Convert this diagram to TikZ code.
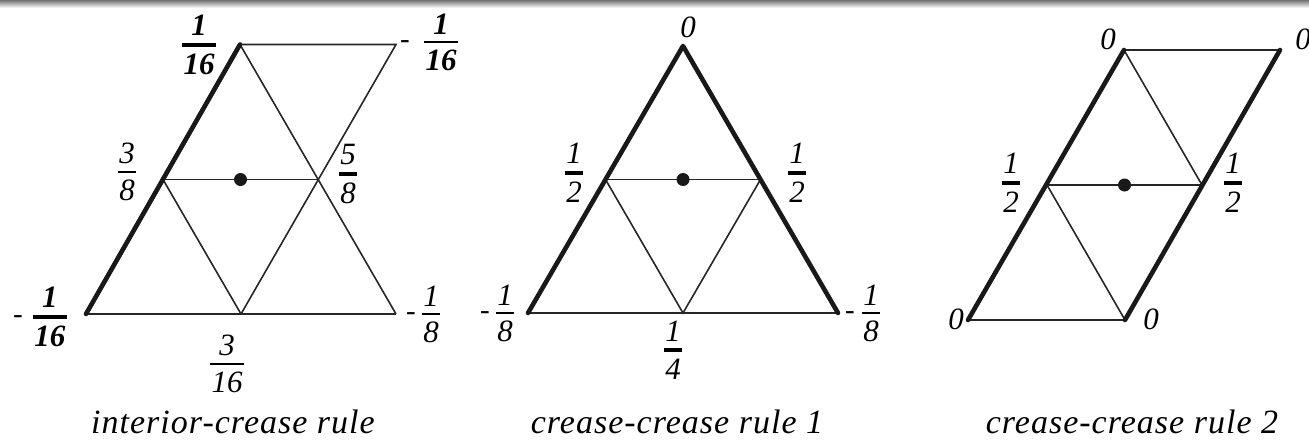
\documentclass[tikz,border=0pt]{standalone}
\usepackage{fontspec}
\usetikzlibrary{calc}
\setmainfont{Liberation Serif}
\newfontfamily\capfont[LetterSpace=3]{Liberation Serif}
\newsavebox\frnumbox
\newsavebox\frdenbox
\newdimen\frwd
\newcommand{\fr}[3]{%
  \sbox\frnumbox{#1}\sbox\frdenbox{#2}%
  \frwd=\wd\frnumbox
  \ifdim\wd\frdenbox>\frwd \frwd=\wd\frdenbox\fi
  \advance\frwd by 3pt
  \vbox{\hbox to\frwd{\hss\usebox\frnumbox\hss}\kern7pt\hrule height #3\kern7pt\hbox to\frwd{\hss\usebox\frdenbox\hss}}}
\tikzset{
  lab/.style={inner sep=0pt, font=\fontsize{31}{32}\selectfont\itshape},
  labb/.style={inner sep=0pt, font=\fontsize{31}{32}\selectfont\itshape\bfseries},
  minus/.style={inner sep=0pt, anchor=base, font=\fontsize{29}{30}\selectfont},
  crease/.style={line width=1.6pt, draw=black!85},
  heavy/.style={line width=4.6pt, draw=black!90, line cap=round, line join=round},
  captiontext/.style={inner sep=0pt, anchor=base, font=\capfont\itshape\fontsize{34}{36}\selectfont},
  dot/.style={circle, fill=black!90, inner sep=0pt, minimum size=13pt}
}
\begin{document}
\begin{tikzpicture}[x=1pt,y=-1pt]
\useasboundingbox (0,0) rectangle (1309,442);
\shade[top color=black!55, bottom color=white] (0,0) rectangle (1309,8);
% ---------- interior-crease rule ----------
\coordinate (a1) at (240,44.5);
\coordinate (a2) at (396,44.5);
\coordinate (a3) at (163,179.5);
\coordinate (a4) at (318,179.5);
\coordinate (a5) at (86,314);
\coordinate (a6) at (241,314);
\coordinate (a7) at (396,314);
\draw[crease] (a1) -- (a2) -- (a6);
\draw[crease] (a1) -- (a7);
\draw[crease] (a3) -- (a4);
\draw[crease] (a3) -- (a6);
\draw[crease] (a5) -- (a7);
\draw[heavy] (a1) -- (a5);
\node[dot] (d1) at ($(a3)!0.5!(a4)$) {};
\node[labb] (l1) at (199,45) {\fr{1}{16}{4.5pt}};
\node[minus] (m2) at (405,48.4) {-};
\node[labb] (l2) at (441,42) {\fr{1}{16}{1.5pt}};
\node[lab] (l3) at (127,172) {\fr{3}{8}{1.5pt}};
\node[lab] (l4) at (348,174) {\fr{5}{8}{4pt}};
\node[minus] (m5) at (18,323.4) {-};
\node[labb] (l5) at (50,317) {\fr{1}{16}{4.5pt}};
\node[lab] (l6) at (227,364) {\fr{3}{16}{1.5pt}};
\node[minus] (m7) at (411,320.4) {-};
\node[lab] (l7) at (431,314) {\fr{1}{8}{1.5pt}};
\node[captiontext] (cap1) at (233,433) {interior-crease rule};
% ---------- crease-crease rule 1 ----------
\coordinate (b1) at (683,46);
\coordinate (b2) at (605.5,179.5);
\coordinate (b3) at (760.5,179.5);
\coordinate (b4) at (528,313);
\coordinate (b5) at (683,313);
\coordinate (b6) at (838,313);
\draw[crease] (b2) -- (b3);
\draw[crease] (b2) -- (b5) -- (b3);
\draw[crease] (b4) -- (b6);
\draw[heavy] (b4) -- (b1) -- (b6);
\node[dot] (d2) at ($(b2)!0.5!(b3)$) {};
\node[lab] (n0) at (688,27) {0};
\node[lab] (n1) at (574,173) {\fr{1}{2}{4pt}};
\node[lab] (n2) at (797,173) {\fr{1}{2}{4pt}};
\node[minus] (n3m) at (485,319.4) {-};
\node[lab] (n3) at (505,313) {\fr{1}{8}{1.5pt}};
\node[minus] (n4m) at (850,319.4) {-};
\node[lab] (n4) at (871,313) {\fr{1}{8}{1.5pt}};
\node[lab] (n5) at (673,350) {\fr{1}{4}{4pt}};
\node[captiontext] (cap2) at (677,433) {crease-crease rule 1};
% ---------- crease-crease rule 2 ----------
\coordinate (c1) at (1124,50);
\coordinate (c2) at (1280,50);
\coordinate (c3) at (1047,185);
\coordinate (c4) at (1202,185);
\coordinate (c5) at (968,320);
\coordinate (c6) at (1125,320);
\draw[crease] (c1) -- (c2);
\draw[crease] (c1) -- (c4);
\draw[crease] (c3) -- (c4);
\draw[crease] (c3) -- (c6);
\draw[crease] (c5) -- (c6);
\draw[heavy] (c1) -- (c5);
\draw[heavy] (c2) -- (c6);
\node[dot] (d3) at ($(c3)!0.5!(c4)$) {};
\node[lab] (r1) at (1108,39) {0};
\node[lab] (r2) at (1303,39) {0};
\node[lab] (r3) at (1011,183) {\fr{1}{2}{4pt}};
\node[lab] (r4) at (1233,183) {\fr{1}{2}{4pt}};
\node[lab] (r5) at (956,319) {0};
\node[lab] (r6) at (1151,319) {0};
\node[captiontext] (cap3) at (1132,433) {crease-crease rule 2};
\end{tikzpicture}
\end{document}
